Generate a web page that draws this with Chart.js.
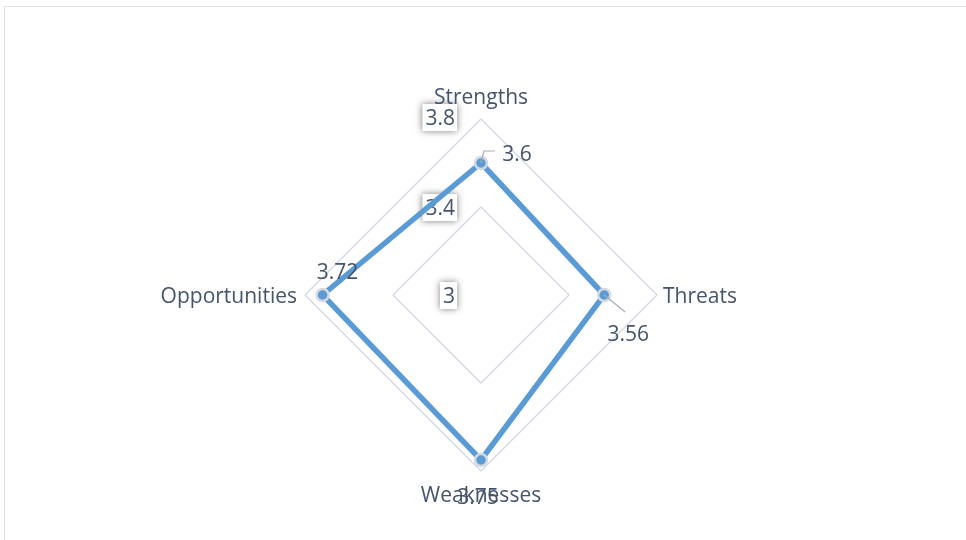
<!DOCTYPE html>
<html lang="en">
<head>
<meta charset="UTF-8">
<title>SWOT radar</title>
<script src="https://cdn.jsdelivr.net/npm/chart.js"></script>
<style>
  body { margin: 0; background: #fff; }
  .frame { position: absolute; left: 4px; top: 6px; width: 1000px; height: 600px; border-top: 1px solid #dde2e8; border-left: 1px solid #dde2e8; }
  #radar { position: absolute; left: 0; top: 0; }
</style>
</head>
<body>
<div class="frame"></div>
<canvas id="radar" width="966" height="540"></canvas>
<script>
// data
const categories = ['Strengths', 'Threats', 'Weaknesses', 'Opportunities'];
const scores = [3.6, 3.56, 3.75, 3.72];
const axisMin = 3;
const axisMax = 3.8;
const axisStep = 0.4;

const textColor = '#44546a';
const fontFamily = '"Open Sans", sans-serif';
const fontSize = 21;
const textNudge = 2; // Open Sans sits a bit high with 'middle' baseline

// where each value label sits relative to its point, and its leader line if any
const valueLabelStyle = [
  { dx: 36, dy: -10, leader: [[3, -12], [14, -12]] },
  { dx: 24, dy: 38, leader: [[21, 17]] },
  { dx: -3, dy: 36, leader: null },
  { dx: 15, dy: -24, leader: null }
];

const fmt = v => String(Math.round(v * 100) / 100);

// tick labels with a small white box and soft shadow, drawn under the line
const tickBoxes = {
  id: 'tickBoxes',
  beforeDatasetsDraw(chart) {
    const scale = chart.scales.r;
    const ctx = chart.ctx;
    ctx.save();
    ctx.font = fontSize + 'px ' + fontFamily;
    ctx.textAlign = 'right';
    ctx.textBaseline = 'middle';
    scale.ticks.forEach(t => {
      const p = scale.getPointPositionForValue(0, t.value);
      const label = fmt(t.value);
      const w = ctx.measureText(label).width;
      const right = p.x - 26;
      const y = p.y - (t.value === axisMax ? 2 : 0);
      ctx.save();
      ctx.shadowColor = 'rgba(0,0,0,0.5)';
      ctx.shadowBlur = 7;
      ctx.fillStyle = '#fff';
      ctx.fillRect(right - w - 3, y - 13, w + 5, 27);
      ctx.restore();
      ctx.fillStyle = textColor;
      ctx.fillText(label, right, y + textNudge);
    });
    ctx.restore();
  }
};

// category names and value labels
const outerLabels = {
  id: 'outerLabels',
  afterDatasetsDraw(chart) {
    const scale = chart.scales.r;
    const ctx = chart.ctx;
    const R = scale.drawingArea;
    ctx.save();
    ctx.font = fontSize + 'px ' + fontFamily;
    ctx.fillStyle = textColor;
    ctx.textBaseline = 'middle';
    categories.forEach((name, i) => {
      const c = scale.getPointPosition(i, 0);
      const edge = scale.getPointPosition(i, R);
      let x = edge.x, y = edge.y + textNudge;
      if (Math.abs(edge.x - c.x) < 1) {
        ctx.textAlign = 'center';
        y += edge.y < c.y ? -23 : 23;
      } else if (edge.x > c.x) {
        ctx.textAlign = 'left';
        x += 6;
      } else {
        ctx.textAlign = 'right';
        x -= 8;
      }
      ctx.fillText(name, x, y);
    });

    const meta = chart.getDatasetMeta(0);
    meta.data.forEach((pt, i) => {
      const s = valueLabelStyle[i];
      if (s.leader) {
        ctx.strokeStyle = '#a5adb8';
        ctx.lineWidth = 1.2;
        ctx.beginPath();
        ctx.moveTo(pt.x, pt.y);
        s.leader.forEach(([lx, ly]) => ctx.lineTo(pt.x + lx, pt.y + ly));
        ctx.stroke();
      }
      ctx.textAlign = 'center';
      ctx.fillStyle = textColor;
      ctx.fillText(fmt(scores[i]), pt.x + s.dx, pt.y + s.dy + textNudge);
    });
    ctx.restore();
  }
};

new Chart(document.getElementById('radar'), {
  type: 'radar',
  data: {
    labels: categories,
    datasets: [{
      data: scores,
      borderColor: '#5b9bd5',
      borderWidth: 5.5,
      backgroundColor: 'rgba(0,0,0,0)',
      fill: false,
      pointRadius: 6,
      pointBorderWidth: 2.5,
      pointBackgroundColor: '#5b9bd5',
      pointBorderColor: '#d5d9df',
      tension: 0
    }]
  },
  options: {
    responsive: false,
    animation: false,
    layout: { padding: { left: 305, right: 309, top: 119, bottom: 69 } },
    plugins: { legend: { display: false }, tooltip: { enabled: false } },
    scales: {
      r: {
        min: axisMin,
        max: axisMax,
        ticks: { stepSize: axisStep, display: false },
        pointLabels: { display: false },
        angleLines: { display: false },
        grid: { color: '#d3d9e3', lineWidth: 1.4 }
      }
    }
  },
  plugins: [tickBoxes, outerLabels]
});
</script>
</body>
</html>
